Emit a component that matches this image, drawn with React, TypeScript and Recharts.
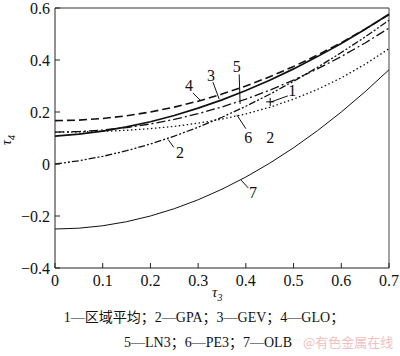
import React from "react";
import {
  ComposedChart, Line, Scatter, XAxis, YAxis, ReferenceLine, ReferenceDot,
} from "recharts";

// τ3 grid and the τ4 curves
const TAU3 = [0, 0.05, 0.1, 0.15, 0.2, 0.25, 0.3, 0.35, 0.4, 0.45, 0.5, 0.55, 0.6, 0.65, 0.7];
const GLO = [0.1667, 0.1688, 0.175, 0.1854, 0.2, 0.2188, 0.2417, 0.2688, 0.3, 0.3354, 0.375, 0.4188, 0.4667, 0.5188, 0.575];
const GEV = [0.107, 0.1147, 0.1265, 0.1425, 0.1626, 0.1867, 0.2148, 0.2468, 0.2827, 0.3224, 0.3658, 0.413, 0.4638, 0.5182, 0.5762];
const GPA = [0, 0.0124, 0.0294, 0.051, 0.0769, 0.1071, 0.1415, 0.1799, 0.2222, 0.2683, 0.3182, 0.3716, 0.4286, 0.4889, 0.5526];
const LN3 = [0.1228, 0.1248, 0.1306, 0.1403, 0.154, 0.1717, 0.1935, 0.2194, 0.2495, 0.2839, 0.3226, 0.3657, 0.4133, 0.4656, 0.5226];
const PE3 = [0.1224, 0.1232, 0.1255, 0.1297, 0.136, 0.1448, 0.1569, 0.1727, 0.1928, 0.2182, 0.2494, 0.2869, 0.3314, 0.3836, 0.4435];
const OLB = [-0.25, -0.2469, -0.2375, -0.2219, -0.2, -0.1719, -0.1375, -0.0969, -0.05, 0.0031, 0.0625, 0.1281, 0.2, 0.2781, 0.3625];

// regional average (point "1")
const REGION = [{ t3: 0.451, avg: 0.239 }];

const X_TICKS = [0, 0.1, 0.2, 0.3, 0.4, 0.5, 0.6, 0.7];
const Y_TICKS = [-0.4, -0.2, 0, 0.2, 0.4, 0.6];

// curve number labels and their leader lines, in data units
const CURVE_LABELS = [
  { text: "4", x: 0.281, y: 0.303 },
  { text: "3", x: 0.327, y: 0.341 },
  { text: "5", x: 0.381, y: 0.376 },
  { text: "6", x: 0.405, y: 0.102 },
  { text: "2", x: 0.451, y: 0.102 },
  { text: "2", x: 0.262, y: 0.045 },
  { text: "1", x: 0.497, y: 0.281 },
  { text: "7", x: 0.415, y: -0.111 },
];
const LEADERS = [
  [0.289, 0.273, 0.304, 0.246],
  [0.331, 0.315, 0.344, 0.25],
  [0.386, 0.345, 0.388, 0.231],
  [0.4, 0.136, 0.381, 0.189],
  [0.237, 0.094, 0.249, 0.064],
  [0.453, 0.239, 0.488, 0.262],
  [0.39, -0.062, 0.405, -0.092],
];

const LEGEND_1 = "1—区域平均；2—GPA；3—GEV；4—GLO；";
const LEGEND_2 = "5—LN3；6—PE3；7—OLB";

const SERIF = "'Liberation Serif', 'Noto Sans CJK SC', serif";
const txt = { fontFamily: SERIF, fontSize: 16 };

const rows = TAU3.map((t, i) => ({
  t3: t, glo: GLO[i], gev: GEV[i], gpa: GPA[i], ln3: LN3[i], pe3: PE3[i], olb: OLB[i],
}));

const fmt = (v: number) => {
  if (Math.abs(v) < 1e-9) return "0";
  const s = Math.abs(v).toFixed(1);
  return v < 0 ? "\u2212" + s : s;
};

function YTick({ x, y, payload }: any) {
  return (
    <g>
      <line x1={x + 5} x2={x + 10} y1={y} y2={y} stroke="#222" />
      <text x={x} y={y} textAnchor="end" dominantBaseline="central"
        style={txt} fill="#111">{fmt(payload.value)}</text>
    </g>
  );
}

function XTick({ x, y, payload }: any) {
  return (
    <g>
      <line x1={x} x2={x} y1={y - 7} y2={y - 12} stroke="#222" />
      <text x={x} y={y} textAnchor="middle" dominantBaseline="hanging"
        style={txt} fill="#111">{fmt(payload.value)}</text>
    </g>
  );
}

const Plus = ({ cx, cy }: any) => (
  <g stroke="#000" strokeWidth={1}>
    <line x1={cx - 4} x2={cx + 4} y1={cy} y2={cy} />
    <line x1={cx} x2={cx} y1={cy - 4} y2={cy + 4} />
  </g>
);

export default function App() {
  return (
    <div style={{ position: "absolute", left: 0, top: 0, width: 400, height: 356, background: "#fff", fontFamily: SERIF }}>
      <ComposedChart width={400} height={300} data={rows} style={{ fontFamily: SERIF }}
        margin={{ top: 8, right: 11, left: 5, bottom: 2 }}>
        <XAxis dataKey="t3" type="number" domain={[0, 0.7]} ticks={X_TICKS}
          height={30} tickLine={false} tickSize={0} tickMargin={7}
          axisLine={{ stroke: "#222" }} tick={<XTick />} interval={0} />
        <YAxis type="number" domain={[-0.4, 0.6]} ticks={Y_TICKS} width={50}
          tickLine={false} tickSize={0} tickMargin={5}
          axisLine={{ stroke: "#222" }} tick={<YTick />} interval={0} />
        <ReferenceLine y={0.6} stroke="#333" />
        <ReferenceLine x={0.7} stroke="#444" />

        <Line dataKey="olb" stroke="#111" strokeWidth={1} dot={false} isAnimationActive={false} />
        <Line dataKey="pe3" stroke="#111" strokeWidth={1.3} strokeDasharray="1.5 2.5" dot={false} isAnimationActive={false} />
        <Line dataKey="gpa" stroke="#111" strokeWidth={1.3} strokeDasharray="7 2 2 2 2 2" dot={false} isAnimationActive={false} />
        <Line dataKey="ln3" stroke="#111" strokeWidth={1.3} strokeDasharray="9 3 2 3" dot={false} isAnimationActive={false} />
        <Line dataKey="glo" stroke="#111" strokeWidth={1.6} strokeDasharray="8 4" dot={false} isAnimationActive={false} />
        <Line dataKey="gev" stroke="#111" strokeWidth={1.7} dot={false} isAnimationActive={false} />
        <Scatter data={REGION} dataKey="avg" shape={<Plus />} isAnimationActive={false} />

        {LEADERS.map(([x1, y1, x2, y2], i) => (
          <ReferenceLine key={"l" + i} segment={[{ x: x1, y: y1 }, { x: x2, y: y2 }]}
            stroke="#111" strokeWidth={1} ifOverflow="visible" />
        ))}
        {CURVE_LABELS.map((d, i) => (
          <ReferenceDot key={"t" + i} x={d.x} y={d.y} r={1} ifOverflow="visible"
            shape={(p: any) => (
              <text x={p.cx} y={p.cy} textAnchor="middle" dominantBaseline="central"
                style={txt} fill="#111">{d.text}</text>
            )} />
        ))}
      </ComposedChart>

      <div style={{ position: "absolute", left: 0, top: 128, width: 14, height: 20,
        transform: "rotate(-90deg)", fontStyle: "italic", fontSize: 14, lineHeight: "20px", color: "#111" }}>
        τ<sub style={{ fontSize: 10 }}>4</sub>
      </div>
      <div style={{ position: "absolute", left: 212, top: 283, fontStyle: "italic", fontSize: 15, lineHeight: "18px", color: "#111" }}>
        τ<sub style={{ fontSize: 10 }}>3</sub>
      </div>

      <div style={{ position: "absolute", left: 0, width: 408, top: 310, textAlign: "center", fontSize: 14, lineHeight: "16px", color: "#111", whiteSpace: "nowrap" }}>
        {LEGEND_1}
      </div>
      <div style={{ position: "absolute", left: 0, width: 416, top: 335, textAlign: "center", fontSize: 14, lineHeight: "16px", color: "#111", whiteSpace: "nowrap" }}>
        {LEGEND_2}
      </div>
      <div style={{ position: "absolute", left: 303, top: 334, fontSize: 13, lineHeight: "15px", color: "#efc0c0",
        fontFamily: "'Noto Sans CJK SC', sans-serif", whiteSpace: "nowrap" }}>
        @有色金属在线
      </div>
    </div>
  );
}
